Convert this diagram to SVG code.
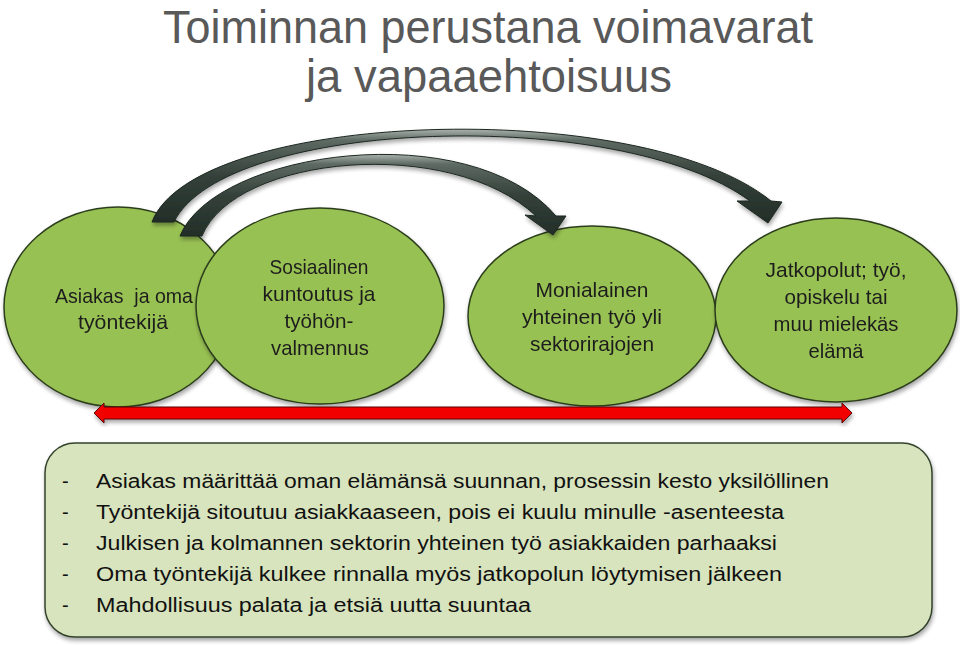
<svg xmlns="http://www.w3.org/2000/svg" width="960" height="645" viewBox="0 0 960 645">
<defs>
<style>
.ell{fill:#98c152;stroke:#2c3d1c;stroke-width:1.5}
.et{font-family:"Liberation Sans",Arial,sans-serif;font-size:21px;fill:#1e1e1e;text-anchor:middle}
.title{font-family:"Liberation Sans",Arial,sans-serif;font-size:47px;fill:#595959;text-anchor:middle}
.bt{font-family:"Liberation Sans",Arial,sans-serif;font-size:20px;fill:#111}
.garr{fill:url(#gg);stroke:#1c2720;stroke-width:1}
</style>
<linearGradient id="gg" x1="0" y1="0" x2="0" y2="1">
<stop offset="0" stop-color="#a9b1ac"/>
<stop offset="0.12" stop-color="#5d6963"/>
<stop offset="0.5" stop-color="#34413a"/>
<stop offset="1" stop-color="#222d27"/>
</linearGradient>
<filter id="sh" x="-10%" y="-10%" width="120%" height="130%">
<feGaussianBlur in="SourceAlpha" stdDeviation="2"/>
<feOffset dx="1" dy="3" result="b"/>
<feComponentTransfer><feFuncA type="linear" slope="0.35"/></feComponentTransfer>
<feMerge><feMergeNode/><feMergeNode in="SourceGraphic"/></feMerge>
</filter>
</defs>
<rect width="960" height="645" fill="#ffffff"/>
<g id="title">
<text class="title" x="488" y="43" textLength="650" lengthAdjust="spacingAndGlyphs">Toiminnan perustana voimavarat</text>
<text class="title" x="489" y="92" textLength="366" lengthAdjust="spacingAndGlyphs">ja vapaaehtoisuus</text>
</g>
<g id="node1" filter="url(#sh)">
<ellipse class="ell" cx="118" cy="307" rx="114" ry="100"/>
<text class="et" x="124" y="303" xml:space="preserve" textLength="138" lengthAdjust="spacingAndGlyphs">Asiakas  ja oma</text>
<text class="et" x="123" y="329" textLength="90" lengthAdjust="spacingAndGlyphs">työntekijä</text>
</g>
<g id="node2" filter="url(#sh)">
<ellipse class="ell" cx="320" cy="306" rx="124" ry="98"/>
<text class="et" x="319" y="274" textLength="99" lengthAdjust="spacingAndGlyphs">Sosiaalinen</text>
<text class="et" x="319" y="301" textLength="113" lengthAdjust="spacingAndGlyphs">kuntoutus ja</text>
<text class="et" x="319" y="328" textLength="69" lengthAdjust="spacingAndGlyphs">työhön-</text>
<text class="et" x="320" y="355" textLength="98" lengthAdjust="spacingAndGlyphs">valmennus</text>
</g>
<g id="node3" filter="url(#sh)">
<ellipse class="ell" cx="592" cy="316" rx="124" ry="90"/>
<text class="et" x="592" y="297" textLength="113" lengthAdjust="spacingAndGlyphs">Monialainen</text>
<text class="et" x="592" y="324" textLength="140" lengthAdjust="spacingAndGlyphs">yhteinen työ yli</text>
<text class="et" x="592" y="351" textLength="124" lengthAdjust="spacingAndGlyphs">sektorirajojen</text>
</g>
<g id="node4" filter="url(#sh)">
<ellipse class="ell" cx="836" cy="310" rx="121" ry="92"/>
<text class="et" x="836" y="277" textLength="141" lengthAdjust="spacingAndGlyphs">Jatkopolut; työ,</text>
<text class="et" x="836" y="304" textLength="103" lengthAdjust="spacingAndGlyphs">opiskelu tai</text>
<text class="et" x="836" y="331" textLength="125" lengthAdjust="spacingAndGlyphs">muu mielekäs</text>
<text class="et" x="836" y="358" textLength="55" lengthAdjust="spacingAndGlyphs">elämä</text>
</g>
<g id="connectors">
<path class="garr" filter="url(#sh)" d="M152 222 C195 110 640 95 771 201 L782 202 L768 223 L737 201 L750 201 C620 105 225 118 174 222 Z"/>
<path class="garr" filter="url(#sh)" d="M180 236 C215 150 470 115 556 216 L566 216 L553 235 L525 215 L536 216 C450 135 235 155 202 236 Z"/>
<path filter="url(#sh)" d="M94 413 L104 403 L104 407 L842 407 L842 403 L852 413 L842 423 L842 419 L104 419 L104 423 Z" fill="#f20000" stroke="#5a0a0a" stroke-width="1"/>
</g>
<g id="infobox">
<rect x="45" y="443" width="887" height="194" rx="30" ry="30" fill="#d8e4bd" stroke="#33422b" stroke-width="1.5" filter="url(#sh)"/>
<text class="bt" x="62" y="488">-</text>
<text class="bt" x="96" y="488" textLength="733" lengthAdjust="spacingAndGlyphs">Asiakas määrittää oman elämänsä suunnan, prosessin kesto yksilöllinen</text>
<text class="bt" x="62" y="519">-</text>
<text class="bt" x="96" y="519" textLength="688" lengthAdjust="spacingAndGlyphs">Työntekijä sitoutuu asiakkaaseen, pois ei kuulu minulle -asenteesta</text>
<text class="bt" x="62" y="550">-</text>
<text class="bt" x="96" y="550" textLength="681" lengthAdjust="spacingAndGlyphs">Julkisen ja kolmannen sektorin yhteinen työ asiakkaiden parhaaksi</text>
<text class="bt" x="62" y="581">-</text>
<text class="bt" x="96" y="581" textLength="686" lengthAdjust="spacingAndGlyphs">Oma työntekijä kulkee rinnalla myös jatkopolun löytymisen jälkeen</text>
<text class="bt" x="62" y="612">-</text>
<text class="bt" x="96" y="612" textLength="435" lengthAdjust="spacingAndGlyphs">Mahdollisuus palata ja etsiä uutta suuntaa</text>
</g>
</svg>
